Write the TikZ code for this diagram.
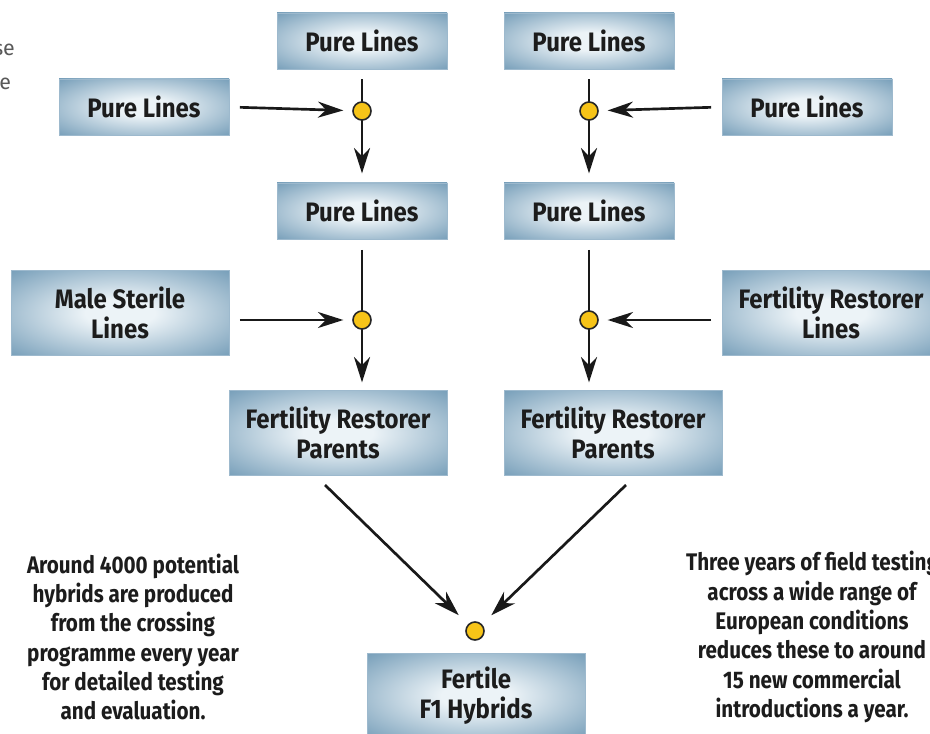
\documentclass[tikz,border=0pt]{standalone}
\usepackage{fontspec}
\setmainfont{Fira Sans}
\newfontfamily\boxfont[FakeStretch=0.9]{Fira Sans}
\newfontfamily\notefont[FakeStretch=0.86]{Fira Sans}
\newfontfamily\fragfont{Fira Sans}
\usetikzlibrary{arrows.meta}
\definecolor{boxdark}{RGB}{92,139,171}
\definecolor{boxlight}{RGB}{236,243,247}
\definecolor{dotyellow}{RGB}{247,196,24}
\definecolor{txt}{RGB}{28,28,28}
\pgfdeclareradialshading{boxshade}{\pgfpoint{0bp}{0bp}}{color(0bp)=(boxlight); color(8bp)=(boxlight); color(42bp)=(boxdark); color(72bp)=(boxdark)}
\tikzset{
  box/.style={rectangle, shading=boxshade, draw=boxdark!60!white, line width=0.4pt,
    minimum width=127.5pt, minimum height=42pt, inner sep=0pt, align=center,
    font=\boxfont\bfseries\fontsize{20}{22.5}\selectfont, text=txt},
  widebox/.style={box, minimum width=163.5pt, minimum height=63.5pt},
  dot/.style={circle, fill=dotyellow, draw=black!85, line width=1.2pt, minimum size=13.5pt, inner sep=0pt},
  arr/.style={-{Stealth[length=19pt,width=12pt,inset=6pt]}, line width=2pt, black!90},
  ln/.style={line width=2pt, black!90},
  note/.style={align=center, font=\notefont\bfseries\fontsize{18}{22}\selectfont, text=txt, inner sep=0pt},
  frag/.style={anchor=west, inner sep=0pt, font=\fragfont\fontsize{16}{24}\selectfont, text=black!65}
}
\begin{document}
\begin{tikzpicture}[x=0.75pt,y=-0.75pt]
\path[use as bounding box, fill=white] (0,0) rectangle (930,734);

% fragments at top left
\node[frag] (f1) at (-7,50) {se};
\node[frag] (f2) at (-7,82) {le};

% boxes
\node[box] (plT1) at (362,41) {Pure Lines};
\node[box] (plT2) at (589,41) {Pure Lines};
\node[box] (plL) at (144,107) {Pure Lines};
\node[box] (plR) at (807,107) {Pure Lines};
\node[box] (plM1) at (362,211) {Pure Lines};
\node[box] (plM2) at (589,211) {Pure Lines};
\node[widebox] (ms) at (120,313) {Male Sterile\\Lines};
\node[widebox] (frl) at (831,313) {Fertility Restorer\\Lines};
\node[widebox] (frp1) at (338,433) {Fertility Restorer\\Parents};
\node[widebox] (frp2) at (613,433) {Fertility Restorer\\Parents};
\node[widebox] (f1h) at (476,696) {Fertile\\F1 Hybrids};

% junction dots (positions)
\coordinate (d1) at (362,111);
\coordinate (d2) at (589,111);
\coordinate (d3) at (362,320);
\coordinate (d4) at (589,320);
\coordinate (d5) at (475,631);
\coordinate (s1) at (325,485);
\coordinate (s2) at (626,485);

% connectors
\draw[ln, shorten <=7.5pt] (plT1.south) -- (d1);
\draw[arr, shorten >=7pt] (d1) -- (plM1.north);
\draw[arr, shorten <=8pt, shorten >=14pt] (plL.east) -- (d1);
\draw[ln, shorten <=7.5pt] (plT2.south) -- (d2);
\draw[arr, shorten >=7pt] (d2) -- (plM2.north);
\draw[arr, shorten <=8pt, shorten >=14pt] (plR.west) -- (d2);

\draw[ln, shorten <=8pt] (plM1.south) -- (d3);
\draw[arr, shorten >=6pt] (d3) -- (d3 |- frp1.north);
\draw[arr, shorten <=8pt, shorten >=14pt] (ms.east |- d3) -- (d3);
\draw[ln, shorten <=8pt] (plM2.south) -- (d4);
\draw[arr, shorten >=6pt] (d4) -- (d4 |- frp2.north);
\draw[arr, shorten <=8pt, shorten >=14pt] (frl.west |- d4) -- (d4);

\draw[arr, shorten >=17pt] (s1) -- (d5);
\draw[arr, shorten >=17pt] (s2) -- (d5);

% dots drawn on top
\node[dot] (n1) at (d1) {};
\node[dot] (n2) at (d2) {};
\node[dot] (n3) at (d3) {};
\node[dot] (n4) at (d4) {};
\node[dot] (n5) at (d5) {};

% notes
\node[note] (nl) at (133,637) {Around 4000 potential\\hybrids are produced\\from the crossing\\programme every year\\for detailed testing\\and evaluation.};
\node[note] (nr) at (812,637) {Three years of field testing\\across a wide range of\\European conditions\\reduces these to around\\15 new commercial\\introductions a year.};
\end{tikzpicture}
\end{document}
